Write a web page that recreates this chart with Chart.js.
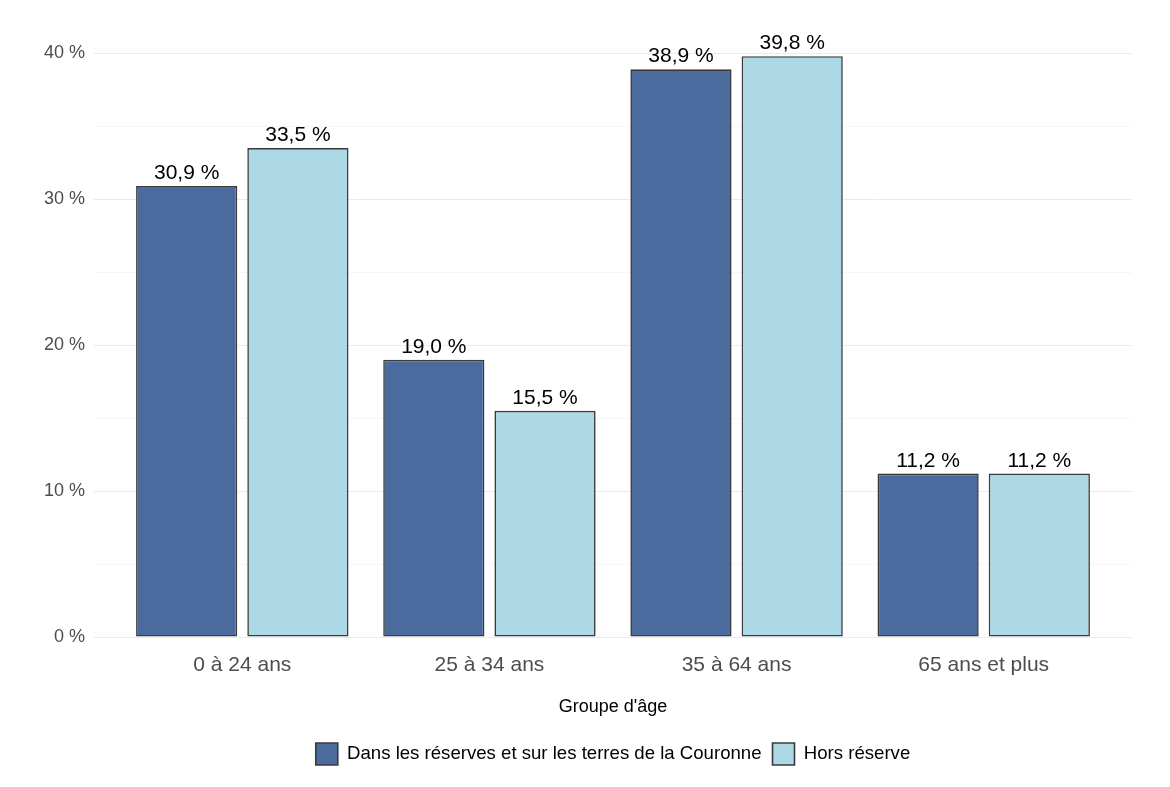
<!DOCTYPE html>
<html>
<head>
<meta charset="utf-8">
<script src="https://cdn.jsdelivr.net/npm/chart.js@4"></script>
<style>
  html, body { margin: 0; padding: 0; background: #fff; }
  #wrap { width: 1170px; height: 787px; }
</style>
</head>
<body>
<div id="wrap"><canvas id="myChart"></canvas></div>
<script>
const categories = ['0 à 24 ans', '25 à 34 ans', '35 à 64 ans', '65 ans et plus'];
const seriesNames = ['Dans les réserves et sur les terres de la Couronne', 'Hors réserve'];
const reserve = [30.9, 19.0, 38.9, 11.2];
const horsReserve = [33.5, 15.5, 39.8, 11.2];
const yTicks = [0, 10, 20, 30, 40];
const yMinorTicks = [5, 15, 25, 35];

const ctx = document.getElementById('myChart');
const FONT = '"Liberation Sans", Arial, sans-serif';

// pour avoir "30,9 %"
function fmt(v) {
    return v.toFixed(1).replace('.', ',') + ' %';
}

// etiquettes au dessus des barres
const barLabels = {
    id: 'barLabels',
    afterDatasetsDraw(chart) {
        const c = chart.ctx;
        c.save();
        c.font = '21px ' + FONT;
        c.fillStyle = '#000';
        c.textAlign = 'center';
        c.textBaseline = 'alphabetic';
        chart.data.datasets.forEach((ds, i) => {
            chart.getDatasetMeta(i).data.forEach((bar, j) => {
                c.fillText(fmt(ds.data[j].y), bar.x, bar.y - 7);
            });
        });
        c.restore();
    }
};

const toPoints = (arr) => arr.map((v, i) => ({ x: i, y: v }));

new Chart(ctx, {
    type: 'bar',
    data: {
        datasets: [{
            label: seriesNames[0],
            data: toPoints(reserve),
            backgroundColor: '#4b6b9f',
            borderColor: '#3a3a3a',
            borderWidth: 1.6,
            borderSkipped: false
        }, {
            label: seriesNames[1],
            data: toPoints(horsReserve),
            backgroundColor: '#add8e6',
            borderColor: '#3a3a3a',
            borderWidth: 1.6,
            borderSkipped: false
        }]
    },
    options: {
        responsive: true,
        maintainAspectRatio: false,
        animation: false,
        categoryPercentage: 0.9,
        barPercentage: 0.91,
        layout: { padding: { top: 27, right: 38, bottom: 12, left: 0 } },
        plugins: {
            tooltip: { enabled: false },
            legend: {
                position: 'bottom',
                fullSize: false,
                labels: {
                    boxWidth: 22,
                    boxHeight: 22,
                    padding: 11,
                    color: '#000',
                    font: { size: 18.6, family: FONT }
                }
            }
        },
        scales: {
            x: {
                type: 'linear',
                offset: false,
                min: -0.6,
                max: 3.6,
                afterBuildTicks: (scale) => {
                    scale.ticks = categories.map((c, i) => ({ value: i }));
                },
                afterFit: (scale) => { scale.height = 95; },
                grid: { display: false },
                border: { display: false },
                ticks: {
                    color: '#4d4d4d',
                    padding: 8,
                    font: { size: 21, family: FONT },
                    callback: (v) => categories[v]
                },
                title: {
                    display: true,
                    text: "Groupe d'âge",
                    color: '#000',
                    padding: { top: 0, bottom: 14 },
                    font: { size: 18, family: FONT }
                }
            },
            y: {
                min: 0,
                max: 41.8,
                afterBuildTicks: (scale) => {
                    scale.ticks = yTicks.concat(yMinorTicks).sort((a, b) => a - b).map((v) => ({ value: v }));
                },
                afterFit: (scale) => { scale.width = 94; },
                border: { display: false },
                grid: {
                    drawTicks: false,
                    color: (c) => yTicks.includes(c.tick.value) ? '#ebebeb' : '#f6f6f6'
                },
                ticks: {
                    color: '#4d4d4d',
                    padding: 9,
                    font: { size: 18, family: FONT },
                    callback: (v) => yTicks.includes(v) ? v + ' %' : ''
                }
            }
        }
    },
    plugins: [barLabels]
});
</script>
</body>
</html>
